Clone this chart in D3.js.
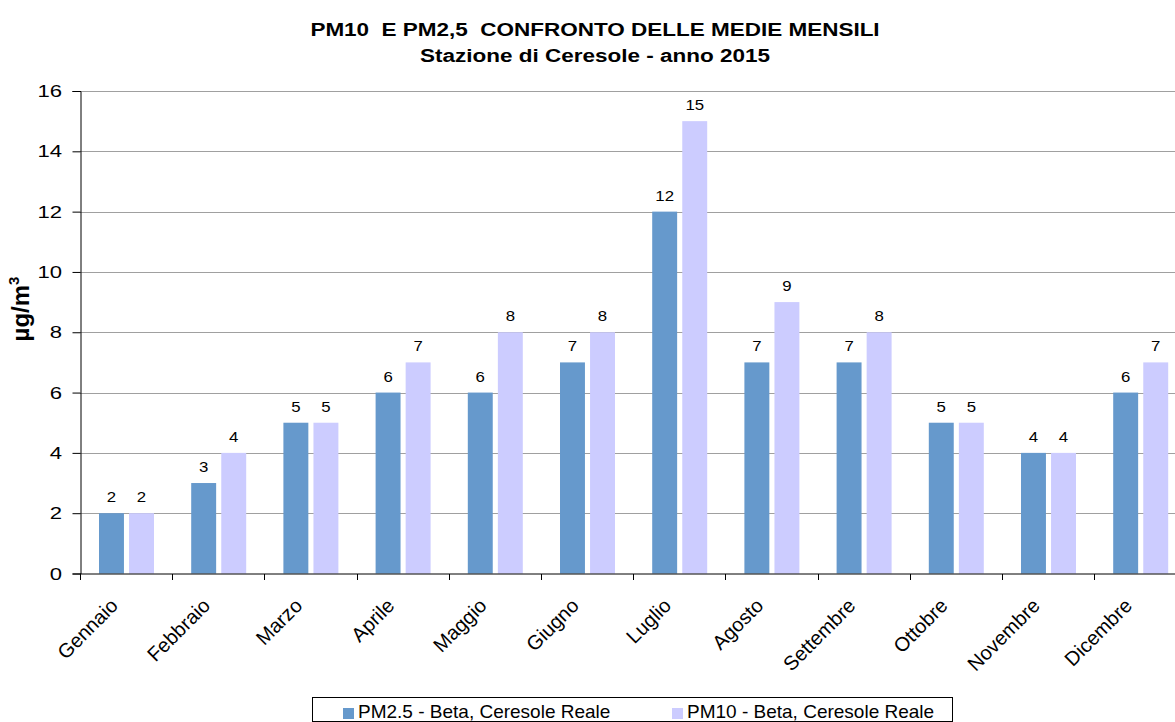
<!DOCTYPE html>
<html>
<head>
<meta charset="utf-8">
<script src="https://cdn.jsdelivr.net/npm/d3@7"></script>
<style>
	body { margin: 0; background: #fff; }
	svg { display: block; }
	text { font-family: "Liberation Sans", Arial, sans-serif; fill: #000; }
</style>
</head>
<body>
<div id="chart"></div>
<script>
var months = ["Gennaio", "Febbraio", "Marzo", "Aprile", "Maggio", "Giugno",
	"Luglio", "Agosto", "Settembre", "Ottobre", "Novembre", "Dicembre"];
var seriesNames = ["PM2.5 - Beta, Ceresole Reale", "PM10 - Beta, Ceresole Reale"];
var pm25 = [2, 3, 5, 6, 6, 7, 12, 7, 7, 5, 4, 6];
var pm10 = [2, 4, 5, 7, 8, 8, 15, 9, 8, 5, 4, 7];
var yTicks = [0, 2, 4, 6, 8, 10, 12, 14, 16];
var colors = ["#6699CC", "#CCCCFF"];

var width = 1175, height = 722;
var margin = {top: 91, left: 80, bottom: 148.5};
// plot runs a bit past the right edge, like the source picture
var plotRight = 1186.4;

var svg = d3.select("#chart").append("svg")
	.attr("width", width)
	.attr("height", height);

var x = d3.scaleBand()
	.domain(months)
	.range([margin.left, plotRight]);

var xSub = d3.scaleBand()
	.domain([0, 1])
	.range([19, 74])
	.paddingInner(0.17);

var y = d3.scaleLinear()
	.domain([0, 16])
	.range([height - margin.bottom, margin.top]);

// gridlines
svg.append("g")
	.selectAll("line")
	.data(yTicks.filter(function(d) { return d > 0; }))
	.enter().append("line")
		.attr("x1", margin.left)
		.attr("x2", plotRight)
		.attr("y1", function(d) { return Math.round(y(d)) + 0.5; })
		.attr("y2", function(d) { return Math.round(y(d)) + 0.5; })
		.attr("stroke", "#a0a0a0")
		.attr("stroke-width", 1);

// bars
var rows = months.map(function(m, i) {
	return {month: m, values: [pm25[i], pm10[i]]};
});

var groups = svg.append("g")
	.selectAll("g")
	.data(rows)
	.enter().append("g")
		.attr("transform", function(d) { return "translate(" + x(d.month) + ",0)"; });

groups.selectAll("rect")
	.data(function(d) { return d.values; })
	.enter().append("rect")
		.attr("x", function(d, i) { return xSub(i); })
		.attr("width", xSub.bandwidth())
		.attr("y", function(d) { return y(d); })
		.attr("height", function(d) { return y(0) - y(d); })
		.attr("fill", function(d, i) { return colors[i]; });

// value labels (source text is a little wide, hence the x scale)
groups.selectAll("text")
	.data(function(d) { return d.values; })
	.enter().append("text")
		.attr("transform", function(d, i) {
			return "translate(" + (xSub(i) + xSub.bandwidth() / 2) + "," + (y(d) - 11) + ") scale(1.2,1)";
		})
		.attr("text-anchor", "middle")
		.attr("font-size", 14)
		.text(function(d) { return d; });

// y axis
var yAxis = svg.append("g")
	.attr("transform", "translate(" + (margin.left + 0.5) + ",0)")
	.call(d3.axisLeft(y).tickValues(yTicks).tickSize(8).tickFormat(""));
yAxis.select(".domain").attr("stroke", "#000");
yAxis.selectAll(".tick line").attr("stroke", "#000");

svg.append("g")
	.selectAll("text")
	.data(yTicks)
	.enter().append("text")
		.attr("transform", function(d) { return "translate(62," + (y(d) + 6) + ") scale(1.3,1)"; })
		.attr("text-anchor", "end")
		.attr("font-size", 17)
		.text(function(d) { return d; });

// x axis: ticks at category boundaries
var xAxisG = svg.append("g")
	.attr("transform", "translate(0," + (y(0) + 0.5) + ")");
xAxisG.append("line")
	.attr("x1", margin.left)
	.attr("x2", plotRight)
	.attr("stroke", "#000");
xAxisG.selectAll(".xtick")
	.data(months)
	.enter().append("line")
		.attr("class", "xtick")
		.attr("x1", function(d) { return Math.round(x(d)) + 0.5; })
		.attr("x2", function(d) { return Math.round(x(d)) + 0.5; })
		.attr("y1", 0)
		.attr("y2", 6)
		.attr("stroke", "#000");
xAxisG.selectAll(".xlabel")
	.data(months)
	.enter().append("text")
		.attr("class", "xlabel")
		.attr("text-anchor", "end")
		.attr("font-size", 20)
		.attr("transform", function(d) {
			return "translate(" + (x(d) + x.bandwidth() / 2 - 7) + ",33) rotate(-45)";
		})
		.text(function(d) { return d; });

// titles
var title = svg.append("text")
	.attr("transform", "translate(595,0) scale(1.25,1)")
	.attr("text-anchor", "middle")
	.attr("font-size", 18)
	.attr("font-weight", "bold")
	.style("white-space", "pre");
title.append("tspan")
	.attr("x", 0)
	.attr("y", 36)
	.text("PM10  E PM2,5  CONFRONTO DELLE MEDIE MENSILI");
title.append("tspan")
	.attr("x", 0)
	.attr("y", 62)
	.text("Stazione di Ceresole - anno 2015");

var ylab = svg.append("text")
	.attr("transform", "translate(29,309) rotate(-90)")
	.attr("text-anchor", "middle")
	.attr("font-size", 24)
	.attr("font-weight", "bold");
ylab.append("tspan").text("µg/m");
ylab.append("tspan")
	.attr("font-size", 15)
	.attr("dy", -10)
	.text("3");

// legend
var legend = svg.append("g")
	.attr("transform", "translate(312,697)");
legend.append("rect")
	.attr("x", 0.5)
	.attr("y", 0.5)
	.attr("width", 640)
	.attr("height", 24)
	.attr("fill", "#fff")
	.attr("stroke", "#000");
var legendX = [31, 360];
var items = legend.selectAll(".item")
	.data(seriesNames)
	.enter().append("g")
		.attr("class", "item")
		.attr("transform", function(d, i) { return "translate(" + legendX[i] + ",0)"; });
items.append("rect")
	.attr("y", 11)
	.attr("width", 11)
	.attr("height", 11)
	.attr("fill", function(d, i) { return colors[i]; });
items.append("text")
	.attr("x", 15)
	.attr("y", 21)
	.attr("font-size", 19)
	.text(function(d) { return d; });
</script>
</body>
</html>
